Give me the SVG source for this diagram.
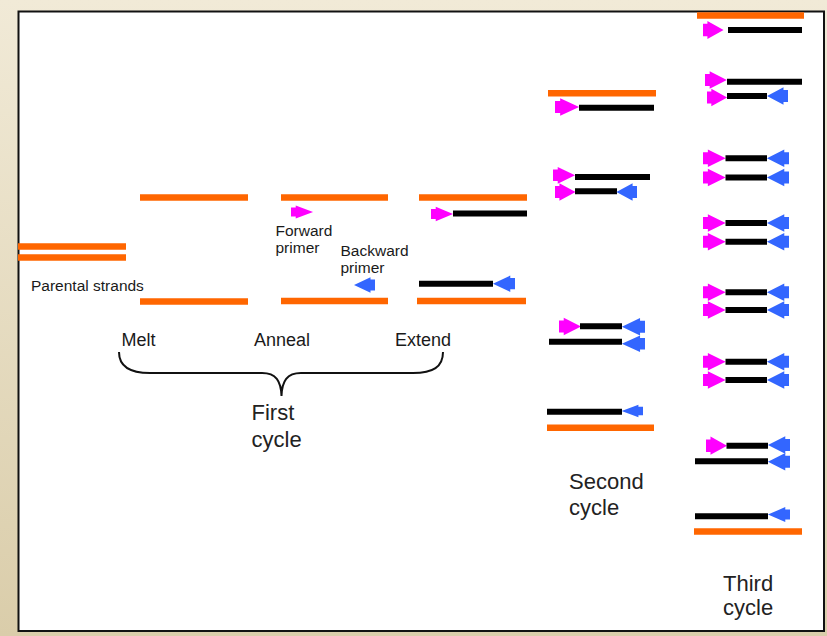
<svg xmlns="http://www.w3.org/2000/svg" xmlns:xlink="http://www.w3.org/1999/xlink" width="827" height="636" viewBox="0 0 827 636">
<defs>
<linearGradient id="bg" x1="0" y1="0" x2="0" y2="1">
<stop offset="0" stop-color="#f1ead7"/>
<stop offset="1" stop-color="#dacdaa"/>
</linearGradient>
<path id="fwd" d="M0,-6 L4.5,-6 L4.5,-8.7 L21,0 L4.5,8.7 L4.5,6 L0,6 Z"/>
<path id="bwd" d="M0,-6 L-4.5,-6 L-4.5,-8.7 L-21,0 L-4.5,8.7 L-4.5,6 L0,6 Z"/>
</defs>
<style>
.o{stroke:#ff6600;stroke-width:6.5;fill:none}
.k{stroke:#000;stroke-width:6;fill:none}
.p{fill:#ff00ff}
.b{fill:#3366ff}
.s{font-family:"Liberation Sans",Arial,sans-serif;font-size:15.5px;fill:#1a1a1a}
.m{font-family:"Liberation Sans",Arial,sans-serif;font-size:18px;fill:#1a1a1a}
.l{font-family:"Liberation Sans",Arial,sans-serif;font-size:22px;fill:#222}
</style>
<rect x="0" y="0" width="827" height="636" fill="url(#bg)"/>
<rect x="18.5" y="11.5" width="805.5" height="619.5" fill="#fff" stroke="#111" stroke-width="2"/>

<g id="parental">
<line class="o" x1="18" y1="246.5" x2="126" y2="246.5"/>
<line class="o" x1="18" y1="257.5" x2="126" y2="257.5"/>
<text class="s" x="31" y="291">Parental strands</text>
</g>

<g id="melt">
<line class="o" x1="140" y1="197.5" x2="248" y2="197.5"/>
<line class="o" x1="140" y1="301.5" x2="248" y2="301.5"/>
</g>

<g id="anneal">
<line class="o" x1="281" y1="197.5" x2="388" y2="197.5"/>
<line class="o" x1="281" y1="301" x2="388" y2="301"/>
<use href="#fwd" class="p" transform="translate(291,212) scale(1.05,0.74)"/>
<use href="#bwd" class="b" transform="translate(375,285) scale(1,0.9)"/>
<text class="s"><tspan x="275.5" y="235.5">Forward</tspan><tspan x="275.5" y="252.5">primer</tspan></text>
<text class="s"><tspan x="340.5" y="256">Backward</tspan><tspan x="340.5" y="273">primer</tspan></text>
</g>

<g id="extend">
<line class="o" x1="419" y1="197.5" x2="527" y2="197.5"/>
<use href="#fwd" class="p" transform="translate(431,214) scale(1.05,0.82)"/>
<line class="k" x1="453" y1="213.5" x2="527" y2="213.5"/>
<line class="k" x1="419" y1="283.7" x2="493" y2="283.7"/>
<use href="#bwd" class="b" transform="translate(515,283.7) scale(1.05,0.94)"/>
<line class="o" x1="417" y1="301" x2="526" y2="301"/>
</g>

<g id="first-cycle-labels">
<text class="m" x="121.5" y="345.5">Melt</text>
<text class="m" x="254" y="345.5">Anneal</text>
<text class="m" x="395" y="345.5">Extend</text>
<path d="M119,352 C119,367 130,373 150,373 L262,373 C276,373 281,381 281.5,396 C282,381 287,373 301,373 L413,373 C433,373 443,367 443,352" fill="none" stroke="#111" stroke-width="2"/>
<text class="l"><tspan x="251.5" y="420">First</tspan><tspan x="251.5" y="446.5">cycle</tspan></text>
</g>

<g id="second-cycle">
<line class="o" x1="548" y1="93.3" x2="656" y2="93.3"/>
<use href="#fwd" class="p" transform="translate(555,107) scale(1.15,1.02)"/>
<line class="k" x1="579" y1="107.7" x2="654" y2="107.7"/>

<use href="#fwd" class="p" transform="translate(553,175.3) scale(1.05,0.96)"/>
<line class="k" x1="575" y1="177" x2="650" y2="177"/>
<use href="#fwd" class="p" transform="translate(555,192) scale(0.98,1)"/>
<line class="k" x1="575" y1="191.3" x2="617" y2="191.3"/>
<use href="#bwd" class="b" transform="translate(637,192) scale(0.98,1)"/>

<use href="#fwd" class="p" transform="translate(559,326.5) scale(1.05,1)"/>
<line class="k" x1="580" y1="326.3" x2="622" y2="326.3"/>
<use href="#bwd" class="b" transform="translate(645,326.7) scale(1.1,1)"/>
<line class="k" x1="549" y1="341.7" x2="622" y2="341.7"/>
<use href="#bwd" class="b" transform="translate(645,343.8) scale(1.1,0.95)"/>

<line class="k" x1="547" y1="411.7" x2="622" y2="411.7"/>
<use href="#bwd" class="b" transform="translate(643,411) scale(1.02,0.72)"/>
<line class="o" x1="547" y1="427.8" x2="654" y2="427.8"/>
<text class="l"><tspan x="569" y="489">Second</tspan><tspan x="569" y="514.5">cycle</tspan></text>
</g>

<g id="third-cycle">
<line class="o" x1="697" y1="15.5" x2="804" y2="15.5"/>
<use href="#fwd" class="p" transform="translate(703,30) scale(0.98,1.03)"/>
<line class="k" x1="728" y1="30" x2="802" y2="30"/>

<use href="#fwd" class="p" transform="translate(705,80) scale(1.04,1)"/>
<line class="k" x1="727" y1="81.7" x2="802" y2="81.7"/>
<use href="#fwd" class="p" transform="translate(707,97.5) scale(0.96,1)"/>
<line class="k" x1="727" y1="96" x2="767" y2="96"/>
<use href="#bwd" class="b" transform="translate(788,96) scale(1,1)"/>

<g id="product-1">
<use href="#fwd" class="p" transform="translate(703,158.3) scale(1.08,1)"/>
<line class="k" x1="725.5" y1="158.3" x2="767" y2="158.3"/>
<use href="#bwd" class="b" transform="translate(789,158.3) scale(1.05,1)"/>
<use href="#fwd" class="p" transform="translate(703,177.5) scale(1.08,1)"/>
<line class="k" x1="725.5" y1="177.5" x2="767" y2="177.5"/>
<use href="#bwd" class="b" transform="translate(789,177.5) scale(1.05,1)"/>
</g>
<g id="product-2">
<use href="#fwd" class="p" transform="translate(703,223) scale(1.08,1)"/>
<line class="k" x1="725.5" y1="223" x2="767" y2="223"/>
<use href="#bwd" class="b" transform="translate(789,223) scale(1.05,1)"/>
<use href="#fwd" class="p" transform="translate(703,241.7) scale(1.08,1)"/>
<line class="k" x1="725.5" y1="241.7" x2="767" y2="241.7"/>
<use href="#bwd" class="b" transform="translate(789,241.7) scale(1.05,1)"/>
</g>
<g id="product-3">
<use href="#fwd" class="p" transform="translate(703,292.3) scale(1.08,1)"/>
<line class="k" x1="725.5" y1="292.3" x2="767" y2="292.3"/>
<use href="#bwd" class="b" transform="translate(789,292.3) scale(1.05,1)"/>
<use href="#fwd" class="p" transform="translate(703,310) scale(1.08,1)"/>
<line class="k" x1="725.5" y1="310" x2="767" y2="310"/>
<use href="#bwd" class="b" transform="translate(789,310) scale(1.05,1)"/>
</g>
<g id="product-4">
<use href="#fwd" class="p" transform="translate(703,361.7) scale(1.08,1)"/>
<line class="k" x1="725.5" y1="361.7" x2="767" y2="361.7"/>
<use href="#bwd" class="b" transform="translate(789,361.7) scale(1.05,1)"/>
<use href="#fwd" class="p" transform="translate(703,380) scale(1.08,1)"/>
<line class="k" x1="725.5" y1="380" x2="767" y2="380"/>
<use href="#bwd" class="b" transform="translate(789,380) scale(1.05,1)"/>
</g>

<use href="#fwd" class="p" transform="translate(706,445.7) scale(1,1.05)"/>
<line class="k" x1="726.5" y1="445.7" x2="768" y2="445.7"/>
<use href="#bwd" class="b" transform="translate(790,445) scale(1.05,1)"/>
<line class="k" x1="695" y1="461.2" x2="768" y2="461.2"/>
<use href="#bwd" class="b" transform="translate(790,461.7) scale(1.05,1)"/>

<line class="k" x1="695" y1="516.2" x2="768" y2="516.2"/>
<use href="#bwd" class="b" transform="translate(790,514.5) scale(1.05,0.85)"/>
<line class="o" x1="694" y1="531.5" x2="802" y2="531.5"/>
<text class="l"><tspan x="723" y="591">Third</tspan><tspan x="723" y="615">cycle</tspan></text>
</g>
</svg>
